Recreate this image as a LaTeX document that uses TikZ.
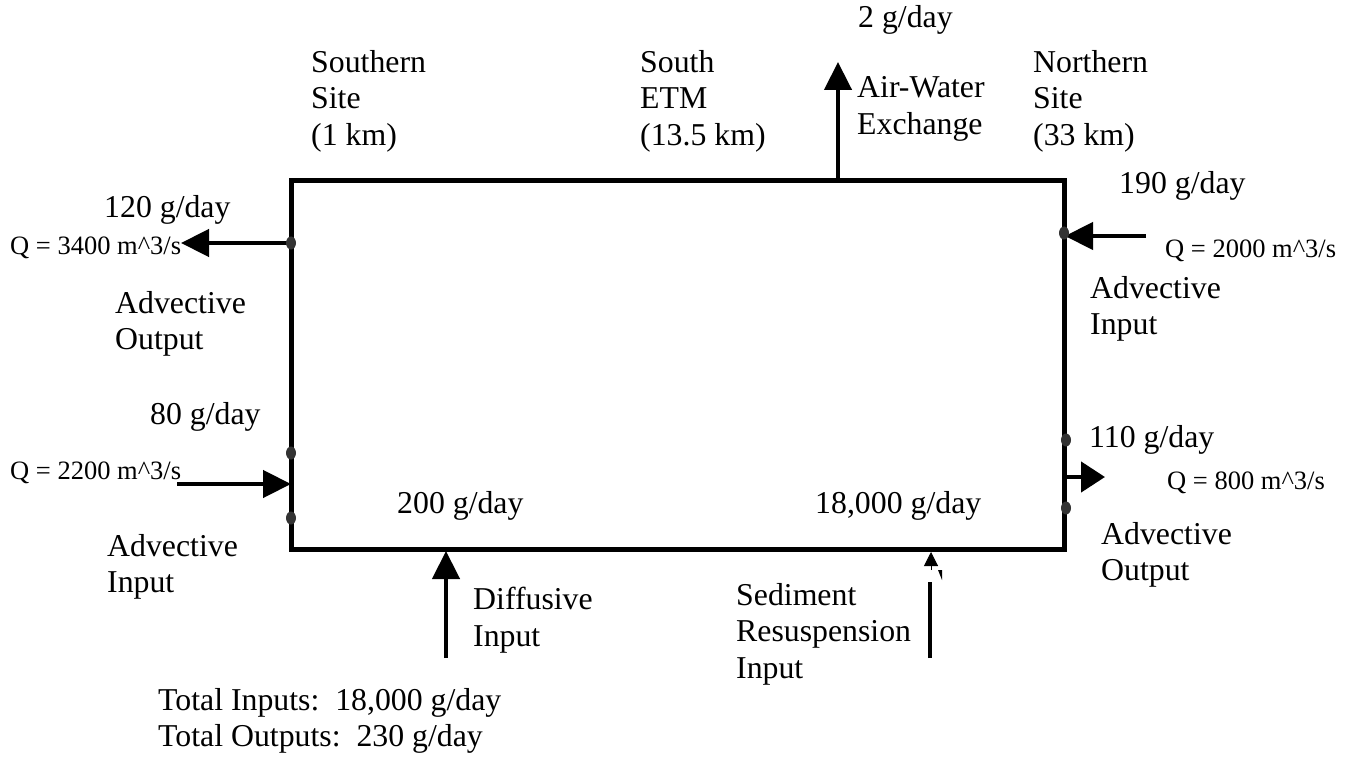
\documentclass[tikz,border=0pt]{standalone}
\usepackage{fontspec}
\setmainfont{Liberation Serif}
\usetikzlibrary{arrows.meta}
\begin{document}
\begin{tikzpicture}[line join=miter,x=1pt,y=-1pt,
	flow/.style={line width=4.5pt,-{Triangle[length=28pt,width=27pt]}},
	lbl/.style={anchor=west,align=left,inner sep=0pt,font=\fontsize{31.8}{36.5}\selectfont},
	qlbl/.style={anchor=west,inner sep=0pt,font=\fontsize{26.5}{30}\selectfont},
	dot/.style={fill=black!80,draw=none}]
	\useasboundingbox (0,0) rectangle (1354,759);
	% control volume
	\coordinate (nw) at (291,181);
	\coordinate (se) at (1064,549);
	\draw[line width=5pt] (nw) rectangle (se);
	% end points of the flows
	\coordinate (aw0) at (838,181);
	\coordinate (aw1) at (838,62);
	\coordinate (lo0) at (291,243);
	\coordinate (lo1) at (181,243);
	\coordinate (li0) at (177,484);
	\coordinate (li1) at (291,484);
	\coordinate (ri0) at (1146,236);
	\coordinate (ri1) at (1065,236);
	\coordinate (ro0) at (1064,477);
	\coordinate (ro1) at (1105,477);
	\coordinate (di0) at (446,658);
	\coordinate (di1) at (446,551);
	\coordinate (sr0) at (930,658);
	\coordinate (sr1) at (930,582);
	\coordinate (sr2) at (931,570);
	\coordinate (sr3) at (931,552);
	\draw[flow] (aw0)--(aw1);
	\draw[flow] (lo0)--(lo1);
	\draw[flow] (li0)--(li1);
	\draw[flow] (ri0)--(ri1);
	\draw[flow,-{Triangle[length=24pt,width=30pt]}] (ro0)--(ro1);
	\draw[flow] (di0)--(di1);
	\draw[line width=4.5pt] (sr0)--(sr1);
	\draw[line width=1pt,-{Triangle[length=14pt,width=14pt]}] (sr2)--(sr3);
	\fill (938,570)--(942,570)--(942,580)--cycle;
	% joints on the walls
	\foreach \x/\y in {291/243,291/453,291/518,1064/233,1066/440,1066/508}
	\fill[dot] (\x,\y) ellipse (5pt and 6.5pt);
	% labels
	\node[lbl] (ss) at (311,101) {Southern\\Site\\(1 km)};
	\node[lbl] (etm) at (640,101) {South\\ETM\\(13.5 km)};
	\node[lbl] (ns) at (1033,101) {Northern\\Site\\(33 km)};
	\node[lbl] (awf) at (858,20) {2 g/day};
	\node[lbl] (awt) at (857,109) {Air-Water\\Exchange};
	\node[lbl] (lof) at (104,210) {120 g/day};
	\node[qlbl] (loq) at (10,248) {Q = 3400 m\^{}3/s};
	\node[lbl] (lot) at (115,324) {Advective\\Output};
	\node[lbl] (rif) at (1119,186) {190 g/day};
	\node[qlbl] (riq) at (1165,251) {Q = 2000 m\^{}3/s};
	\node[lbl] (rit) at (1090,309) {Advective\\Input};
	\node[lbl] (lif) at (150,417) {80 g/day};
	\node[qlbl] (liq) at (10,473) {Q = 2200 m\^{}3/s};
	\node[lbl] (lit) at (107,567) {Advective\\Input};
	\node[lbl] (dif) at (397,506) {200 g/day};
	\node[lbl] (srf) at (815,506) {18,000 g/day};
	\node[lbl] (rof) at (1089,440) {110 g/day};
	\node[qlbl] (roq) at (1167,483) {Q = 800 m\^{}3/s};
	\node[lbl] (rot) at (1101,555) {Advective\\Output};
	\node[lbl] (dit) at (473,620) {Diffusive\\Input};
	\node[lbl] (srt) at (736,634) {Sediment\\Resuspension\\Input};
	\node[lbl] (tot) at (158,721) {Total Inputs:\ \ 18,000 g/day\\Total Outputs:\ \ 230 g/day};
\end{tikzpicture}
\end{document}
